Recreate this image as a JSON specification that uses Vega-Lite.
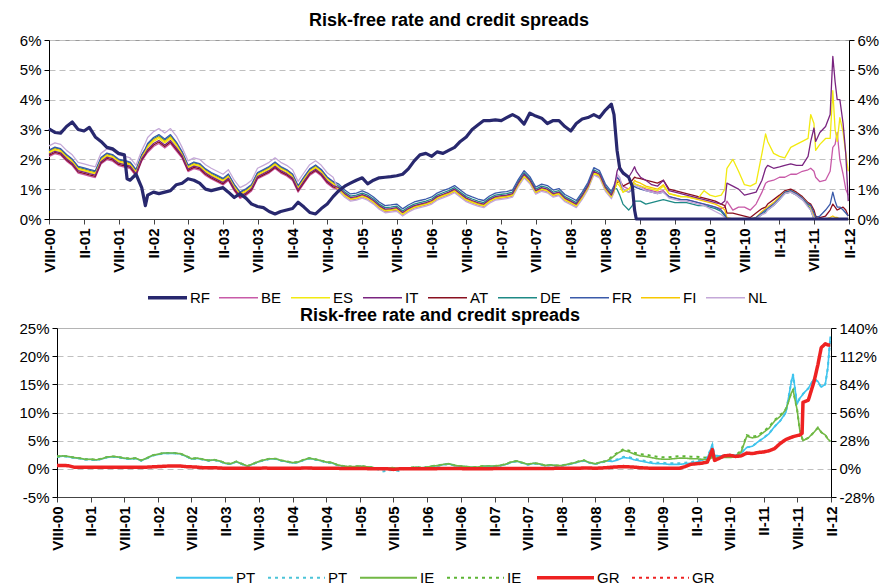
{
"$schema": "https://vega.github.io/schema/vega-lite/v6.json",
"background": "white",
"padding": {"left": 18, "top": 11, "right": 2, "bottom": 5},
"config": {
 "font": "Liberation Sans",
 "view": {"stroke": "#9a9a9a"},
 "title": {"fontSize": 18, "fontWeight": "bold", "color": "#000"},
 "axis": {"labelFontSize": 15, "labelColor": "#000", "domainColor": "#000", "tickColor": "#000", "tickSize": 5, "gridColor": "#c0c0c0", "gridDash": [6,4], "labelPadding": 3},
 "axisX": {"domainColor": "#444", "tickColor": "#444"},
 "legend": {"orient": "none", "direction": "horizontal", "symbolType": "stroke", "labelFontSize": 15, "labelColor": "#000", "padding": 0}
},
"datasets": {
"top": [
{"d":"2000/08/01","RF":3.02,"BE":2.09,"ES":2.21,"IT":2.17,"AT":2.13,"DE":2.28,"FR":2.31,"FI":2.25,"NL":2.45},
{"d":"2000/09/01","RF":2.9,"BE":2.19,"ES":2.31,"IT":2.27,"AT":2.23,"DE":2.38,"FR":2.41,"FI":2.35,"NL":2.55},
{"d":"2000/10/01","RF":2.88,"BE":2.14,"ES":2.26,"IT":2.22,"AT":2.18,"DE":2.33,"FR":2.36,"FI":2.3,"NL":2.5},
{"d":"2000/11/01","RF":3.1,"BE":1.94,"ES":2.06,"IT":2.02,"AT":1.98,"DE":2.13,"FR":2.16,"FI":2.1,"NL":2.3},
{"d":"2000/12/01","RF":3.25,"BE":1.79,"ES":1.91,"IT":1.87,"AT":1.83,"DE":1.98,"FR":2.01,"FI":1.95,"NL":2.15},
{"d":"2001/01/01","RF":3.0,"BE":1.54,"ES":1.66,"IT":1.62,"AT":1.58,"DE":1.73,"FR":1.76,"FI":1.7,"NL":1.9},
{"d":"2001/02/01","RF":2.95,"BE":1.49,"ES":1.61,"IT":1.57,"AT":1.53,"DE":1.68,"FR":1.71,"FI":1.65,"NL":1.85},
{"d":"2001/03/01","RF":3.07,"BE":1.44,"ES":1.56,"IT":1.52,"AT":1.48,"DE":1.63,"FR":1.66,"FI":1.6,"NL":1.8},
{"d":"2001/04/01","RF":2.75,"BE":1.39,"ES":1.51,"IT":1.47,"AT":1.43,"DE":1.58,"FR":1.61,"FI":1.55,"NL":1.75},
{"d":"2001/05/01","RF":2.6,"BE":1.84,"ES":1.96,"IT":1.92,"AT":1.88,"DE":2.03,"FR":2.06,"FI":2.0,"NL":2.2},
{"d":"2001/06/01","RF":2.4,"BE":1.99,"ES":2.11,"IT":2.07,"AT":2.03,"DE":2.18,"FR":2.21,"FI":2.15,"NL":2.35},
{"d":"2001/07/01","RF":2.35,"BE":1.94,"ES":2.06,"IT":2.02,"AT":1.98,"DE":2.13,"FR":2.16,"FI":2.1,"NL":2.3},
{"d":"2001/08/01","RF":2.2,"BE":1.79,"ES":1.91,"IT":1.87,"AT":1.83,"DE":1.98,"FR":2.01,"FI":1.95,"NL":2.15},
{"d":"2001/09/01","RF":2.15,"BE":1.74,"ES":1.86,"IT":1.82,"AT":1.78,"DE":1.93,"FR":1.96,"FI":1.9,"NL":2.1},
{"d":"2001/09/15","RF":1.35,"BE":1.72,"ES":1.84,"IT":1.8,"AT":1.76,"DE":1.91,"FR":1.94,"FI":1.88,"NL":2.08},
{"d":"2001/10/01","RF":1.3,"BE":1.69,"ES":1.81,"IT":1.77,"AT":1.73,"DE":1.88,"FR":1.91,"FI":1.85,"NL":2.05},
{"d":"2001/11/01","RF":1.5,"BE":1.44,"ES":1.56,"IT":1.52,"AT":1.48,"DE":1.63,"FR":1.66,"FI":1.6,"NL":1.8},
{"d":"2001/12/01","RF":1.05,"BE":1.94,"ES":2.06,"IT":2.02,"AT":1.98,"DE":2.13,"FR":2.16,"FI":2.1,"NL":2.3},
{"d":"2001/12/20","RF":0.45,"BE":2.12,"ES":2.25,"IT":2.2,"AT":2.16,"DE":2.33,"FR":2.36,"FI":2.3,"NL":2.55},
{"d":"2002/01/01","RF":0.8,"BE":2.23,"ES":2.4,"IT":2.33,"AT":2.28,"DE":2.49,"FR":2.53,"FI":2.45,"NL":2.73},
{"d":"2002/02/01","RF":0.9,"BE":2.43,"ES":2.6,"IT":2.53,"AT":2.48,"DE":2.69,"FR":2.73,"FI":2.65,"NL":2.93},
{"d":"2002/03/01","RF":0.85,"BE":2.53,"ES":2.7,"IT":2.63,"AT":2.58,"DE":2.79,"FR":2.83,"FI":2.75,"NL":3.03},
{"d":"2002/04/01","RF":0.9,"BE":2.38,"ES":2.55,"IT":2.48,"AT":2.43,"DE":2.64,"FR":2.68,"FI":2.6,"NL":2.88},
{"d":"2002/05/01","RF":0.95,"BE":2.53,"ES":2.7,"IT":2.63,"AT":2.58,"DE":2.79,"FR":2.83,"FI":2.75,"NL":3.03},
{"d":"2002/06/01","RF":1.15,"BE":2.28,"ES":2.45,"IT":2.38,"AT":2.33,"DE":2.54,"FR":2.58,"FI":2.5,"NL":2.78},
{"d":"2002/07/01","RF":1.2,"BE":2.04,"ES":2.16,"IT":2.12,"AT":2.08,"DE":2.23,"FR":2.26,"FI":2.2,"NL":2.4},
{"d":"2002/08/01","RF":1.35,"BE":1.59,"ES":1.71,"IT":1.67,"AT":1.63,"DE":1.78,"FR":1.81,"FI":1.75,"NL":1.95},
{"d":"2002/09/01","RF":1.3,"BE":1.69,"ES":1.81,"IT":1.77,"AT":1.73,"DE":1.88,"FR":1.91,"FI":1.85,"NL":2.05},
{"d":"2002/10/01","RF":1.2,"BE":1.64,"ES":1.76,"IT":1.72,"AT":1.68,"DE":1.83,"FR":1.86,"FI":1.8,"NL":2.0},
{"d":"2002/11/01","RF":1.0,"BE":1.46,"ES":1.58,"IT":1.54,"AT":1.5,"DE":1.65,"FR":1.68,"FI":1.62,"NL":1.82},
{"d":"2002/12/01","RF":0.95,"BE":1.34,"ES":1.46,"IT":1.42,"AT":1.38,"DE":1.53,"FR":1.56,"FI":1.5,"NL":1.7},
{"d":"2003/01/01","RF":1.0,"BE":1.24,"ES":1.36,"IT":1.32,"AT":1.28,"DE":1.43,"FR":1.46,"FI":1.4,"NL":1.6},
{"d":"2003/02/01","RF":1.05,"BE":1.14,"ES":1.26,"IT":1.22,"AT":1.18,"DE":1.33,"FR":1.36,"FI":1.3,"NL":1.5},
{"d":"2003/03/01","RF":0.9,"BE":1.29,"ES":1.41,"IT":1.37,"AT":1.33,"DE":1.48,"FR":1.51,"FI":1.45,"NL":1.65},
{"d":"2003/04/01","RF":0.72,"BE":0.94,"ES":1.06,"IT":1.02,"AT":0.98,"DE":1.13,"FR":1.16,"FI":1.1,"NL":1.3},
{"d":"2003/05/01","RF":0.85,"BE":0.69,"ES":0.81,"IT":0.77,"AT":0.73,"DE":0.88,"FR":0.91,"FI":0.85,"NL":1.05},
{"d":"2003/06/01","RF":0.7,"BE":0.79,"ES":0.91,"IT":0.87,"AT":0.83,"DE":0.98,"FR":1.01,"FI":0.95,"NL":1.15},
{"d":"2003/07/01","RF":0.5,"BE":0.94,"ES":1.06,"IT":1.02,"AT":0.98,"DE":1.13,"FR":1.16,"FI":1.1,"NL":1.3},
{"d":"2003/08/01","RF":0.42,"BE":1.34,"ES":1.46,"IT":1.42,"AT":1.38,"DE":1.53,"FR":1.56,"FI":1.5,"NL":1.7},
{"d":"2003/09/01","RF":0.38,"BE":1.44,"ES":1.56,"IT":1.52,"AT":1.48,"DE":1.63,"FR":1.66,"FI":1.6,"NL":1.8},
{"d":"2003/10/01","RF":0.25,"BE":1.54,"ES":1.66,"IT":1.62,"AT":1.58,"DE":1.73,"FR":1.76,"FI":1.7,"NL":1.9},
{"d":"2003/11/01","RF":0.17,"BE":1.69,"ES":1.81,"IT":1.77,"AT":1.73,"DE":1.88,"FR":1.91,"FI":1.85,"NL":2.05},
{"d":"2003/12/01","RF":0.25,"BE":1.54,"ES":1.66,"IT":1.62,"AT":1.58,"DE":1.73,"FR":1.76,"FI":1.7,"NL":1.9},
{"d":"2004/01/01","RF":0.3,"BE":1.44,"ES":1.56,"IT":1.52,"AT":1.48,"DE":1.63,"FR":1.66,"FI":1.6,"NL":1.8},
{"d":"2004/02/01","RF":0.35,"BE":1.29,"ES":1.41,"IT":1.37,"AT":1.33,"DE":1.48,"FR":1.51,"FI":1.45,"NL":1.65},
{"d":"2004/03/01","RF":0.56,"BE":0.9,"ES":1.02,"IT":0.98,"AT":0.94,"DE":1.09,"FR":1.12,"FI":1.06,"NL":1.26},
{"d":"2004/04/01","RF":0.4,"BE":1.19,"ES":1.31,"IT":1.27,"AT":1.23,"DE":1.38,"FR":1.41,"FI":1.35,"NL":1.55},
{"d":"2004/05/01","RF":0.22,"BE":1.46,"ES":1.58,"IT":1.54,"AT":1.5,"DE":1.65,"FR":1.68,"FI":1.62,"NL":1.82},
{"d":"2004/06/01","RF":0.17,"BE":1.59,"ES":1.71,"IT":1.67,"AT":1.63,"DE":1.78,"FR":1.81,"FI":1.75,"NL":1.95},
{"d":"2004/07/01","RF":0.35,"BE":1.44,"ES":1.56,"IT":1.52,"AT":1.48,"DE":1.63,"FR":1.66,"FI":1.6,"NL":1.8},
{"d":"2004/08/01","RF":0.5,"BE":1.19,"ES":1.31,"IT":1.27,"AT":1.23,"DE":1.38,"FR":1.41,"FI":1.35,"NL":1.55},
{"d":"2004/09/01","RF":0.75,"BE":1.04,"ES":1.16,"IT":1.12,"AT":1.08,"DE":1.23,"FR":1.26,"FI":1.2,"NL":1.4},
{"d":"2004/10/01","RF":0.95,"BE":0.97,"ES":0.99,"IT":1.05,"AT":1.02,"DE":1.1,"FR":1.17,"FI":1.03,"NL":0.93},
{"d":"2004/11/01","RF":1.1,"BE":0.77,"ES":0.79,"IT":0.85,"AT":0.82,"DE":0.9,"FR":0.97,"FI":0.83,"NL":0.73},
{"d":"2004/12/01","RF":1.2,"BE":0.64,"ES":0.66,"IT":0.72,"AT":0.69,"DE":0.77,"FR":0.84,"FI":0.7,"NL":0.6},
{"d":"2005/01/01","RF":1.3,"BE":0.67,"ES":0.69,"IT":0.75,"AT":0.72,"DE":0.8,"FR":0.87,"FI":0.73,"NL":0.63},
{"d":"2005/02/01","RF":1.38,"BE":0.74,"ES":0.76,"IT":0.82,"AT":0.79,"DE":0.87,"FR":0.94,"FI":0.8,"NL":0.7},
{"d":"2005/03/01","RF":1.18,"BE":0.67,"ES":0.69,"IT":0.75,"AT":0.72,"DE":0.8,"FR":0.87,"FI":0.73,"NL":0.63},
{"d":"2005/04/01","RF":1.3,"BE":0.54,"ES":0.56,"IT":0.62,"AT":0.59,"DE":0.67,"FR":0.74,"FI":0.6,"NL":0.5},
{"d":"2005/05/01","RF":1.38,"BE":0.37,"ES":0.39,"IT":0.45,"AT":0.42,"DE":0.5,"FR":0.57,"FI":0.43,"NL":0.33},
{"d":"2005/06/01","RF":1.4,"BE":0.25,"ES":0.27,"IT":0.33,"AT":0.3,"DE":0.38,"FR":0.45,"FI":0.31,"NL":0.21},
{"d":"2005/07/01","RF":1.42,"BE":0.27,"ES":0.29,"IT":0.35,"AT":0.32,"DE":0.4,"FR":0.47,"FI":0.33,"NL":0.23},
{"d":"2005/08/01","RF":1.45,"BE":0.3,"ES":0.32,"IT":0.38,"AT":0.35,"DE":0.43,"FR":0.5,"FI":0.36,"NL":0.26},
{"d":"2005/09/01","RF":1.5,"BE":0.14,"ES":0.16,"IT":0.22,"AT":0.19,"DE":0.27,"FR":0.34,"FI":0.2,"NL":0.1},
{"d":"2005/10/01","RF":1.68,"BE":0.27,"ES":0.29,"IT":0.35,"AT":0.32,"DE":0.4,"FR":0.47,"FI":0.33,"NL":0.23},
{"d":"2005/11/01","RF":1.95,"BE":0.37,"ES":0.39,"IT":0.45,"AT":0.42,"DE":0.5,"FR":0.57,"FI":0.43,"NL":0.33},
{"d":"2005/12/01","RF":2.15,"BE":0.42,"ES":0.44,"IT":0.5,"AT":0.47,"DE":0.55,"FR":0.62,"FI":0.48,"NL":0.38},
{"d":"2006/01/01","RF":2.2,"BE":0.47,"ES":0.49,"IT":0.55,"AT":0.52,"DE":0.6,"FR":0.67,"FI":0.53,"NL":0.43},
{"d":"2006/02/01","RF":2.1,"BE":0.54,"ES":0.56,"IT":0.62,"AT":0.59,"DE":0.67,"FR":0.74,"FI":0.6,"NL":0.5},
{"d":"2006/03/01","RF":2.25,"BE":0.67,"ES":0.69,"IT":0.75,"AT":0.72,"DE":0.8,"FR":0.87,"FI":0.73,"NL":0.63},
{"d":"2006/04/01","RF":2.2,"BE":0.75,"ES":0.77,"IT":0.83,"AT":0.8,"DE":0.88,"FR":0.95,"FI":0.81,"NL":0.71},
{"d":"2006/05/01","RF":2.3,"BE":0.82,"ES":0.84,"IT":0.9,"AT":0.87,"DE":0.95,"FR":1.02,"FI":0.88,"NL":0.78},
{"d":"2006/06/01","RF":2.4,"BE":0.92,"ES":0.94,"IT":1.0,"AT":0.97,"DE":1.05,"FR":1.12,"FI":0.98,"NL":0.88},
{"d":"2006/07/01","RF":2.6,"BE":0.77,"ES":0.79,"IT":0.85,"AT":0.82,"DE":0.9,"FR":0.97,"FI":0.83,"NL":0.73},
{"d":"2006/08/01","RF":2.75,"BE":0.62,"ES":0.64,"IT":0.7,"AT":0.67,"DE":0.75,"FR":0.82,"FI":0.68,"NL":0.58},
{"d":"2006/09/01","RF":3.0,"BE":0.54,"ES":0.56,"IT":0.62,"AT":0.59,"DE":0.67,"FR":0.74,"FI":0.6,"NL":0.5},
{"d":"2006/10/01","RF":3.15,"BE":0.47,"ES":0.49,"IT":0.55,"AT":0.52,"DE":0.6,"FR":0.67,"FI":0.53,"NL":0.43},
{"d":"2006/11/01","RF":3.3,"BE":0.42,"ES":0.44,"IT":0.5,"AT":0.47,"DE":0.55,"FR":0.62,"FI":0.48,"NL":0.38},
{"d":"2006/12/01","RF":3.3,"BE":0.57,"ES":0.59,"IT":0.65,"AT":0.62,"DE":0.7,"FR":0.77,"FI":0.63,"NL":0.53},
{"d":"2007/01/01","RF":3.32,"BE":0.67,"ES":0.69,"IT":0.75,"AT":0.72,"DE":0.8,"FR":0.87,"FI":0.73,"NL":0.63},
{"d":"2007/02/01","RF":3.3,"BE":0.7,"ES":0.72,"IT":0.78,"AT":0.75,"DE":0.83,"FR":0.9,"FI":0.76,"NL":0.66},
{"d":"2007/03/01","RF":3.4,"BE":0.72,"ES":0.74,"IT":0.8,"AT":0.77,"DE":0.85,"FR":0.92,"FI":0.78,"NL":0.68},
{"d":"2007/04/01","RF":3.5,"BE":0.77,"ES":0.79,"IT":0.85,"AT":0.82,"DE":0.9,"FR":0.97,"FI":0.83,"NL":0.73},
{"d":"2007/05/01","RF":3.4,"BE":1.12,"ES":1.14,"IT":1.2,"AT":1.17,"DE":1.25,"FR":1.32,"FI":1.18,"NL":1.08},
{"d":"2007/06/01","RF":3.18,"BE":1.42,"ES":1.44,"IT":1.5,"AT":1.47,"DE":1.55,"FR":1.62,"FI":1.48,"NL":1.38},
{"d":"2007/07/01","RF":3.55,"BE":1.22,"ES":1.24,"IT":1.3,"AT":1.27,"DE":1.35,"FR":1.42,"FI":1.28,"NL":1.18},
{"d":"2007/08/01","RF":3.45,"BE":0.87,"ES":0.89,"IT":0.95,"AT":0.92,"DE":1.0,"FR":1.07,"FI":0.93,"NL":0.83},
{"d":"2007/09/01","RF":3.38,"BE":0.97,"ES":0.99,"IT":1.05,"AT":1.02,"DE":1.1,"FR":1.17,"FI":1.03,"NL":0.93},
{"d":"2007/10/01","RF":3.2,"BE":0.92,"ES":0.94,"IT":1.0,"AT":0.97,"DE":1.05,"FR":1.12,"FI":0.98,"NL":0.88},
{"d":"2007/11/01","RF":3.3,"BE":0.77,"ES":0.79,"IT":0.85,"AT":0.82,"DE":0.9,"FR":0.97,"FI":0.83,"NL":0.73},
{"d":"2007/12/01","RF":3.3,"BE":0.82,"ES":0.84,"IT":0.9,"AT":0.87,"DE":0.95,"FR":1.02,"FI":0.88,"NL":0.78},
{"d":"2008/01/01","RF":3.1,"BE":0.62,"ES":0.64,"IT":0.7,"AT":0.67,"DE":0.75,"FR":0.82,"FI":0.68,"NL":0.58},
{"d":"2008/02/01","RF":2.95,"BE":0.52,"ES":0.54,"IT":0.6,"AT":0.57,"DE":0.65,"FR":0.72,"FI":0.58,"NL":0.48},
{"d":"2008/03/01","RF":3.2,"BE":0.42,"ES":0.44,"IT":0.5,"AT":0.47,"DE":0.55,"FR":0.62,"FI":0.48,"NL":0.38},
{"d":"2008/04/01","RF":3.35,"BE":0.7,"ES":0.72,"IT":0.78,"AT":0.75,"DE":0.83,"FR":0.9,"FI":0.76,"NL":0.66},
{"d":"2008/05/01","RF":3.4,"BE":1.02,"ES":1.04,"IT":1.1,"AT":1.07,"DE":1.15,"FR":1.22,"FI":1.08,"NL":0.98},
{"d":"2008/06/01","RF":3.5,"BE":1.52,"ES":1.54,"IT":1.6,"AT":1.57,"DE":1.65,"FR":1.72,"FI":1.58,"NL":1.48},
{"d":"2008/07/01","RF":3.4,"BE":1.42,"ES":1.44,"IT":1.5,"AT":1.47,"DE":1.55,"FR":1.62,"FI":1.48,"NL":1.38},
{"d":"2008/08/01","RF":3.65,"BE":0.97,"ES":0.99,"IT":1.05,"AT":1.02,"DE":1.1,"FR":1.17,"FI":1.03,"NL":0.93},
{"d":"2008/09/01","RF":3.85,"BE":0.72,"ES":0.74,"IT":0.8,"AT":0.77,"DE":0.85,"FR":0.92,"FI":0.78,"NL":0.68},
{"d":"2008/09/15","RF":3.5,"BE":0.92,"ES":0.94,"IT":1.0,"AT":0.97,"DE":1.05,"FR":1.12,"FI":0.98,"NL":0.88},
{"d":"2008/10/01","RF":2.3,"BE":1.4,"ES":1.2,"IT":1.6,"AT":1.2,"DE":1.0,"FR":1.4,"FI":1.3,"NL":1.5},
{"d":"2008/10/15","RF":1.7,"BE":1.3,"ES":1.1,"IT":1.8,"AT":1.3,"DE":0.8,"FR":1.3,"FI":1.2,"NL":1.4},
{"d":"2008/11/01","RF":1.55,"BE":1.1,"ES":0.9,"IT":1.5,"AT":1.1,"DE":0.5,"FR":1.0,"FI":0.9,"NL":1.0},
{"d":"2008/12/01","RF":1.4,"BE":1.0,"ES":1.0,"IT":1.4,"AT":1.2,"DE":0.3,"FR":0.9,"FI":1.0,"NL":0.9},
{"d":"2008/12/20","RF":1.1,"BE":1.1,"ES":1.1,"IT":1.6,"AT":1.3,"DE":0.45,"FR":1.0,"FI":1.15,"NL":1.05},
{"d":"2009/01/01","RF":0.3,"BE":1.2,"ES":1.2,"IT":1.75,"AT":1.4,"DE":0.6,"FR":1.1,"FI":1.3,"NL":1.2},
{"d":"2009/01/10","RF":0,"BE":1.15,"ES":1.15,"IT":1.6,"AT":1.38,"DE":0.6,"FR":1.05,"FI":1.25,"NL":1.1},
{"d":"2009/02/01","RF":0,"BE":1.1,"ES":1.1,"IT":1.4,"AT":1.35,"DE":0.6,"FR":1.0,"FI":1.2,"NL":1.05},
{"d":"2009/03/01","RF":0,"BE":1.0,"ES":1.05,"IT":1.3,"AT":1.3,"DE":0.5,"FR":0.95,"FI":1.1,"NL":0.95},
{"d":"2009/04/01","RF":0,"BE":0.95,"ES":1.0,"IT":1.15,"AT":1.25,"DE":0.55,"FR":0.9,"FI":1.05,"NL":0.9},
{"d":"2009/05/01","RF":0,"BE":0.9,"ES":0.95,"IT":1.1,"AT":1.2,"DE":0.6,"FR":0.85,"FI":1.0,"NL":0.85},
{"d":"2009/06/01","RF":0,"BE":0.95,"ES":1.1,"IT":1.3,"AT":1.3,"DE":0.65,"FR":0.9,"FI":1.15,"NL":0.9},
{"d":"2009/07/01","RF":0,"BE":0.75,"ES":0.85,"IT":0.95,"AT":1.0,"DE":0.6,"FR":0.75,"FI":0.85,"NL":0.7},
{"d":"2009/08/01","RF":0,"BE":0.7,"ES":0.8,"IT":0.9,"AT":0.95,"DE":0.55,"FR":0.7,"FI":0.8,"NL":0.65},
{"d":"2009/09/01","RF":0,"BE":0.65,"ES":0.75,"IT":0.85,"AT":0.9,"DE":0.55,"FR":0.65,"FI":0.75,"NL":0.6},
{"d":"2009/10/01","RF":0,"BE":0.65,"ES":0.75,"IT":0.8,"AT":0.85,"DE":0.55,"FR":0.65,"FI":0.75,"NL":0.6},
{"d":"2009/11/01","RF":0,"BE":0.6,"ES":0.7,"IT":0.75,"AT":0.8,"DE":0.5,"FR":0.6,"FI":0.7,"NL":0.55},
{"d":"2009/12/01","RF":0,"BE":0.55,"ES":0.7,"IT":0.7,"AT":0.75,"DE":0.45,"FR":0.55,"FI":0.65,"NL":0.5},
{"d":"2010/01/01","RF":0,"BE":0.5,"ES":0.95,"IT":0.65,"AT":0.7,"DE":0.45,"FR":0.5,"FI":0.6,"NL":0.45},
{"d":"2010/02/01","RF":0,"BE":0.45,"ES":0.8,"IT":0.6,"AT":0.65,"DE":0.4,"FR":0.45,"FI":0.55,"NL":0.35},
{"d":"2010/03/01","RF":0,"BE":0.4,"ES":0.75,"IT":0.55,"AT":0.6,"DE":0.35,"FR":0.4,"FI":0.5,"NL":0.25},
{"d":"2010/04/01","RF":0,"BE":0.35,"ES":0.8,"IT":0.5,"AT":0.5,"DE":0.25,"FR":0.3,"FI":0.4,"NL":0.15},
{"d":"2010/04/20","RF":0,"BE":0.4,"ES":1.0,"IT":0.6,"AT":0.45,"DE":0.1,"FR":0.15,"FI":0.3,"NL":0.05},
{"d":"2010/05/01","RF":0,"BE":0.6,"ES":1.7,"IT":1.2,"AT":0.2,"DE":0,"FR":0,"FI":0.05,"NL":0},
{"d":"2010/06/01","RF":0,"BE":0.3,"ES":2.0,"IT":1.1,"AT":0.2,"DE":0,"FR":0,"FI":0,"NL":0},
{"d":"2010/07/01","RF":0,"BE":0.4,"ES":1.6,"IT":1.0,"AT":0.15,"DE":0,"FR":0,"FI":0,"NL":0},
{"d":"2010/08/01","RF":0,"BE":0.4,"ES":1.15,"IT":0.8,"AT":0.1,"DE":0,"FR":0,"FI":0,"NL":0},
{"d":"2010/09/01","RF":0,"BE":0.3,"ES":1.1,"IT":0.85,"AT":0.05,"DE":0,"FR":0,"FI":0,"NL":0},
{"d":"2010/10/01","RF":0,"BE":0.5,"ES":1.2,"IT":0.9,"AT":0.2,"DE":0,"FR":0.05,"FI":0.05,"NL":0},
{"d":"2010/11/01","RF":0,"BE":0.9,"ES":2.2,"IT":1.3,"AT":0.35,"DE":0.15,"FR":0.2,"FI":0.25,"NL":0.15},
{"d":"2010/11/20","RF":0,"BE":1.2,"ES":2.85,"IT":1.7,"AT":0.4,"DE":0.25,"FR":0.3,"FI":0.35,"NL":0.2},
{"d":"2010/12/01","RF":0,"BE":1.25,"ES":2.6,"IT":1.8,"AT":0.5,"DE":0.3,"FR":0.35,"FI":0.4,"NL":0.3},
{"d":"2011/01/01","RF":0,"BE":1.3,"ES":2.2,"IT":1.7,"AT":0.65,"DE":0.45,"FR":0.5,"FI":0.55,"NL":0.45},
{"d":"2011/02/01","RF":0,"BE":1.4,"ES":2.1,"IT":1.75,"AT":0.8,"DE":0.65,"FR":0.7,"FI":0.75,"NL":0.65},
{"d":"2011/03/01","RF":0,"BE":1.4,"ES":2.05,"IT":1.8,"AT":0.95,"DE":0.85,"FR":0.9,"FI":0.9,"NL":0.85},
{"d":"2011/04/01","RF":0,"BE":1.5,"ES":2.4,"IT":1.85,"AT":1.0,"DE":0.9,"FR":0.95,"FI":0.95,"NL":0.9},
{"d":"2011/05/01","RF":0,"BE":1.5,"ES":2.5,"IT":1.8,"AT":0.9,"DE":0.8,"FR":0.85,"FI":0.85,"NL":0.8},
{"d":"2011/06/01","RF":0,"BE":1.6,"ES":2.6,"IT":1.8,"AT":0.75,"DE":0.65,"FR":0.7,"FI":0.7,"NL":0.65},
{"d":"2011/07/01","RF":0,"BE":1.65,"ES":2.7,"IT":2.1,"AT":0.55,"DE":0.45,"FR":0.5,"FI":0.5,"NL":0.4},
{"d":"2011/07/15","RF":0,"BE":1.7,"ES":3.5,"IT":2.6,"AT":0.5,"DE":0.3,"FR":0.45,"FI":0.4,"NL":0.3},
{"d":"2011/08/01","RF":0,"BE":1.6,"ES":3.2,"IT":3.05,"AT":0.3,"DE":0.0,"FR":0.2,"FI":0.1,"NL":0},
{"d":"2011/08/10","RF":0,"BE":1.4,"ES":2.3,"IT":2.6,"AT":0.1,"DE":0,"FR":0.05,"FI":0.05,"NL":0},
{"d":"2011/09/01","RF":0,"BE":1.25,"ES":2.5,"IT":2.9,"AT":0.05,"DE":0,"FR":0.1,"FI":0,"NL":0},
{"d":"2011/10/01","RF":0,"BE":1.3,"ES":2.7,"IT":3.1,"AT":0.1,"DE":0,"FR":0.3,"FI":0,"NL":0},
{"d":"2011/10/25","RF":0,"BE":1.6,"ES":2.7,"IT":3.5,"AT":0.3,"DE":0,"FR":0.5,"FI":0.05,"NL":0},
{"d":"2011/11/08","RF":0,"BE":2.4,"ES":4.3,"IT":5.45,"AT":0.5,"DE":0,"FR":0.9,"FI":0.1,"NL":0},
{"d":"2011/11/20","RF":0,"BE":2.5,"ES":3.0,"IT":4.6,"AT":0.4,"DE":0,"FR":0.6,"FI":0.05,"NL":0},
{"d":"2011/12/01","RF":0,"BE":2.9,"ES":2.6,"IT":4.0,"AT":0.3,"DE":0,"FR":0.4,"FI":0.05,"NL":0},
{"d":"2011/12/15","RF":0,"BE":2.0,"ES":3.4,"IT":4.0,"AT":0.35,"DE":0,"FR":0.4,"FI":0,"NL":0},
{"d":"2012/01/01","RF":0,"BE":1.5,"ES":2.9,"IT":3.2,"AT":0.4,"DE":0,"FR":0.3,"FI":0,"NL":0},
{"d":"2012/01/15","RF":0,"BE":1.0,"ES":2.2,"IT":2.2,"AT":0.3,"DE":0,"FR":0.2,"FI":0,"NL":0},
{"d":"2012/01/28","RF":0,"BE":0.8,"ES":1.6,"IT":0.6,"AT":0.1,"DE":0,"FR":0.1,"FI":0,"NL":0}
],
"bot": [
{"d":"2000/08/01","PT":2.15,"PT_r":12.0,"IE":2.2,"IE_r":12.3,"GR":0.6,"GR_r":3.4},
{"d":"2000/09/01","PT":2.25,"PT_r":12.6,"IE":2.3,"IE_r":12.9,"GR":0.6,"GR_r":3.4},
{"d":"2000/10/01","PT":2.15,"PT_r":12.0,"IE":2.2,"IE_r":12.3,"GR":0.55,"GR_r":3.1},
{"d":"2000/11/01","PT":1.95,"PT_r":10.9,"IE":2.0,"IE_r":11.2,"GR":0.3,"GR_r":1.7},
{"d":"2000/12/01","PT":1.85,"PT_r":10.4,"IE":1.9,"IE_r":10.6,"GR":0.3,"GR_r":1.7},
{"d":"2001/01/01","PT":1.65,"PT_r":9.2,"IE":1.7,"IE_r":9.5,"GR":0.3,"GR_r":1.7},
{"d":"2001/02/01","PT":1.65,"PT_r":9.2,"IE":1.7,"IE_r":9.5,"GR":0.3,"GR_r":1.7},
{"d":"2001/03/01","PT":1.55,"PT_r":8.7,"IE":1.6,"IE_r":9.0,"GR":0.3,"GR_r":1.7},
{"d":"2001/04/01","PT":1.75,"PT_r":9.8,"IE":1.8,"IE_r":10.1,"GR":0.3,"GR_r":1.7},
{"d":"2001/05/01","PT":2.05,"PT_r":11.5,"IE":2.1,"IE_r":11.8,"GR":0.3,"GR_r":1.7},
{"d":"2001/06/01","PT":2.15,"PT_r":12.0,"IE":2.2,"IE_r":12.3,"GR":0.3,"GR_r":1.7},
{"d":"2001/07/01","PT":2.05,"PT_r":11.5,"IE":2.1,"IE_r":11.8,"GR":0.3,"GR_r":1.7},
{"d":"2001/08/01","PT":1.85,"PT_r":10.4,"IE":1.9,"IE_r":10.6,"GR":0.3,"GR_r":1.7},
{"d":"2001/09/01","PT":1.75,"PT_r":9.8,"IE":1.8,"IE_r":10.1,"GR":0.3,"GR_r":1.7},
{"d":"2001/10/01","PT":1.85,"PT_r":10.4,"IE":1.9,"IE_r":10.6,"GR":0.3,"GR_r":1.7},
{"d":"2001/11/01","PT":1.45,"PT_r":8.1,"IE":1.5,"IE_r":8.4,"GR":0.3,"GR_r":1.7},
{"d":"2001/12/01","PT":1.85,"PT_r":10.4,"IE":1.9,"IE_r":10.6,"GR":0.3,"GR_r":1.7},
{"d":"2002/01/01","PT":2.35,"PT_r":13.2,"IE":2.4,"IE_r":13.4,"GR":0.35,"GR_r":2.0},
{"d":"2002/02/01","PT":2.55,"PT_r":14.3,"IE":2.6,"IE_r":14.6,"GR":0.4,"GR_r":2.2},
{"d":"2002/03/01","PT":2.75,"PT_r":15.4,"IE":2.8,"IE_r":15.7,"GR":0.45,"GR_r":2.5},
{"d":"2002/04/01","PT":2.75,"PT_r":15.4,"IE":2.8,"IE_r":15.7,"GR":0.5,"GR_r":2.8},
{"d":"2002/05/01","PT":2.75,"PT_r":15.4,"IE":2.8,"IE_r":15.7,"GR":0.5,"GR_r":2.8},
{"d":"2002/06/01","PT":2.65,"PT_r":14.8,"IE":2.7,"IE_r":15.1,"GR":0.5,"GR_r":2.8},
{"d":"2002/07/01","PT":2.25,"PT_r":12.6,"IE":2.3,"IE_r":12.9,"GR":0.4,"GR_r":2.2},
{"d":"2002/08/01","PT":1.75,"PT_r":9.8,"IE":1.8,"IE_r":10.1,"GR":0.35,"GR_r":2.0},
{"d":"2002/09/01","PT":1.85,"PT_r":10.4,"IE":1.9,"IE_r":10.6,"GR":0.3,"GR_r":1.7},
{"d":"2002/10/01","PT":1.65,"PT_r":9.2,"IE":1.7,"IE_r":9.5,"GR":0.2,"GR_r":1.1},
{"d":"2002/11/01","PT":1.45,"PT_r":8.1,"IE":1.5,"IE_r":8.4,"GR":0.2,"GR_r":1.1},
{"d":"2002/12/01","PT":1.55,"PT_r":8.7,"IE":1.6,"IE_r":9.0,"GR":0.2,"GR_r":1.1},
{"d":"2003/01/01","PT":1.35,"PT_r":7.6,"IE":1.4,"IE_r":7.8,"GR":0.15,"GR_r":0.8},
{"d":"2003/02/01","PT":0.95,"PT_r":5.3,"IE":1.0,"IE_r":5.6,"GR":0.1,"GR_r":0.6},
{"d":"2003/03/01","PT":0.85,"PT_r":4.8,"IE":0.9,"IE_r":5.0,"GR":0.1,"GR_r":0.6},
{"d":"2003/04/01","PT":1.25,"PT_r":7.0,"IE":1.3,"IE_r":7.3,"GR":0.1,"GR_r":0.6},
{"d":"2003/05/01","PT":0.85,"PT_r":4.8,"IE":0.9,"IE_r":5.0,"GR":0.1,"GR_r":0.6},
{"d":"2003/06/01","PT":0.45,"PT_r":2.5,"IE":0.5,"IE_r":2.8,"GR":0.1,"GR_r":0.6},
{"d":"2003/07/01","PT":0.85,"PT_r":4.8,"IE":0.9,"IE_r":5.0,"GR":0.1,"GR_r":0.6},
{"d":"2003/08/01","PT":1.25,"PT_r":7.0,"IE":1.3,"IE_r":7.3,"GR":0.1,"GR_r":0.6},
{"d":"2003/09/01","PT":1.55,"PT_r":8.7,"IE":1.6,"IE_r":9.0,"GR":0.15,"GR_r":0.8},
{"d":"2003/10/01","PT":1.75,"PT_r":9.8,"IE":1.8,"IE_r":10.1,"GR":0.1,"GR_r":0.6},
{"d":"2003/11/01","PT":1.75,"PT_r":9.8,"IE":1.8,"IE_r":10.1,"GR":0.1,"GR_r":0.6},
{"d":"2003/12/01","PT":1.45,"PT_r":8.1,"IE":1.5,"IE_r":8.4,"GR":0.1,"GR_r":0.6},
{"d":"2004/01/01","PT":1.25,"PT_r":7.0,"IE":1.3,"IE_r":7.3,"GR":0.1,"GR_r":0.6},
{"d":"2004/02/01","PT":1.05,"PT_r":5.9,"IE":1.1,"IE_r":6.2,"GR":0.1,"GR_r":0.6},
{"d":"2004/03/01","PT":1.15,"PT_r":6.4,"IE":1.2,"IE_r":6.7,"GR":0.1,"GR_r":0.6},
{"d":"2004/04/01","PT":1.55,"PT_r":8.7,"IE":1.6,"IE_r":9.0,"GR":0.15,"GR_r":0.8},
{"d":"2004/05/01","PT":1.85,"PT_r":10.4,"IE":1.9,"IE_r":10.6,"GR":0.15,"GR_r":0.8},
{"d":"2004/06/01","PT":1.65,"PT_r":9.2,"IE":1.7,"IE_r":9.5,"GR":0.1,"GR_r":0.6},
{"d":"2004/07/01","PT":1.45,"PT_r":8.1,"IE":1.5,"IE_r":8.4,"GR":0.1,"GR_r":0.6},
{"d":"2004/08/01","PT":1.15,"PT_r":6.4,"IE":1.2,"IE_r":6.7,"GR":0.1,"GR_r":0.6},
{"d":"2004/09/01","PT":1.05,"PT_r":5.9,"IE":1.1,"IE_r":6.2,"GR":0.1,"GR_r":0.6},
{"d":"2004/10/01","PT":0.65,"PT_r":3.6,"IE":0.7,"IE_r":3.9,"GR":0.1,"GR_r":0.6},
{"d":"2004/11/01","PT":0.45,"PT_r":2.5,"IE":0.5,"IE_r":2.8,"GR":0.05,"GR_r":0.3},
{"d":"2004/12/01","PT":0.35,"PT_r":2.0,"IE":0.4,"IE_r":2.2,"GR":0.05,"GR_r":0.3},
{"d":"2005/01/01","PT":0.35,"PT_r":2.0,"IE":0.4,"IE_r":2.2,"GR":0.05,"GR_r":0.3},
{"d":"2005/02/01","PT":0.45,"PT_r":2.5,"IE":0.5,"IE_r":2.8,"GR":0.05,"GR_r":0.3},
{"d":"2005/03/01","PT":0.35,"PT_r":2.0,"IE":0.4,"IE_r":2.2,"GR":0.05,"GR_r":0.3},
{"d":"2005/04/01","PT":0.25,"PT_r":1.4,"IE":0.3,"IE_r":1.7,"GR":0,"GR_r":0},
{"d":"2005/05/01","PT":0.05,"PT_r":0.3,"IE":0.1,"IE_r":0.6,"GR":0,"GR_r":0},
{"d":"2005/06/01","PT":-0.1,"PT_r":-2.8,"IE":0.0,"IE_r":0,"GR":0,"GR_r":0},
{"d":"2005/07/01","PT":0.0,"PT_r":-1.7,"IE":0.1,"IE_r":0.6,"GR":0,"GR_r":0},
{"d":"2005/08/01","PT":0.1,"PT_r":-1.1,"IE":0.2,"IE_r":1.1,"GR":-0.1,"GR_r":-0.6},
{"d":"2005/09/01","PT":-0.05,"PT_r":-2.2,"IE":0.0,"IE_r":0,"GR":0,"GR_r":0},
{"d":"2005/10/01","PT":0.05,"PT_r":0.3,"IE":0.1,"IE_r":0.6,"GR":0,"GR_r":0},
{"d":"2005/11/01","PT":0.15,"PT_r":0.8,"IE":0.2,"IE_r":1.1,"GR":0,"GR_r":0},
{"d":"2005/12/01","PT":0.25,"PT_r":1.4,"IE":0.3,"IE_r":1.7,"GR":0,"GR_r":0},
{"d":"2006/01/01","PT":0.15,"PT_r":0.8,"IE":0.2,"IE_r":1.1,"GR":0,"GR_r":0},
{"d":"2006/02/01","PT":0.25,"PT_r":1.4,"IE":0.3,"IE_r":1.7,"GR":0,"GR_r":0},
{"d":"2006/03/01","PT":0.45,"PT_r":2.5,"IE":0.5,"IE_r":2.8,"GR":0,"GR_r":0},
{"d":"2006/04/01","PT":0.55,"PT_r":3.1,"IE":0.6,"IE_r":3.4,"GR":0.05,"GR_r":0.3},
{"d":"2006/05/01","PT":0.75,"PT_r":4.2,"IE":0.8,"IE_r":4.5,"GR":0.05,"GR_r":0.3},
{"d":"2006/06/01","PT":0.85,"PT_r":4.8,"IE":0.9,"IE_r":5.0,"GR":0.05,"GR_r":0.3},
{"d":"2006/07/01","PT":0.55,"PT_r":3.1,"IE":0.6,"IE_r":3.4,"GR":0.05,"GR_r":0.3},
{"d":"2006/08/01","PT":0.45,"PT_r":2.5,"IE":0.5,"IE_r":2.8,"GR":0.05,"GR_r":0.3},
{"d":"2006/09/01","PT":0.35,"PT_r":2.0,"IE":0.4,"IE_r":2.2,"GR":0,"GR_r":0},
{"d":"2006/10/01","PT":0.25,"PT_r":1.4,"IE":0.3,"IE_r":1.7,"GR":0,"GR_r":0},
{"d":"2006/11/01","PT":0.25,"PT_r":1.4,"IE":0.3,"IE_r":1.7,"GR":0,"GR_r":0},
{"d":"2006/12/01","PT":0.45,"PT_r":2.5,"IE":0.5,"IE_r":2.8,"GR":0,"GR_r":0},
{"d":"2007/01/01","PT":0.45,"PT_r":2.5,"IE":0.5,"IE_r":2.8,"GR":0,"GR_r":0},
{"d":"2007/02/01","PT":0.45,"PT_r":2.5,"IE":0.5,"IE_r":2.8,"GR":0.05,"GR_r":0.3},
{"d":"2007/03/01","PT":0.55,"PT_r":3.1,"IE":0.6,"IE_r":3.4,"GR":0.05,"GR_r":0.3},
{"d":"2007/04/01","PT":0.75,"PT_r":4.2,"IE":0.8,"IE_r":4.5,"GR":0.05,"GR_r":0.3},
{"d":"2007/05/01","PT":1.15,"PT_r":6.4,"IE":1.2,"IE_r":6.7,"GR":0.05,"GR_r":0.3},
{"d":"2007/06/01","PT":1.35,"PT_r":7.6,"IE":1.4,"IE_r":7.8,"GR":0.05,"GR_r":0.3},
{"d":"2007/07/01","PT":1.05,"PT_r":5.9,"IE":1.1,"IE_r":6.2,"GR":0.05,"GR_r":0.3},
{"d":"2007/08/01","PT":0.75,"PT_r":4.2,"IE":0.8,"IE_r":4.5,"GR":0.05,"GR_r":0.3},
{"d":"2007/09/01","PT":0.95,"PT_r":5.3,"IE":1.0,"IE_r":5.6,"GR":0.05,"GR_r":0.3},
{"d":"2007/10/01","PT":0.85,"PT_r":4.8,"IE":0.9,"IE_r":5.0,"GR":0.05,"GR_r":0.3},
{"d":"2007/11/01","PT":0.55,"PT_r":3.1,"IE":0.6,"IE_r":3.4,"GR":0.05,"GR_r":0.3},
{"d":"2007/12/01","PT":0.65,"PT_r":3.6,"IE":0.7,"IE_r":3.9,"GR":0.05,"GR_r":0.3},
{"d":"2008/01/01","PT":0.55,"PT_r":3.1,"IE":0.6,"IE_r":3.4,"GR":0.1,"GR_r":0.6},
{"d":"2008/02/01","PT":0.55,"PT_r":3.1,"IE":0.6,"IE_r":3.4,"GR":0.1,"GR_r":0.6},
{"d":"2008/03/01","PT":0.75,"PT_r":4.2,"IE":0.8,"IE_r":4.5,"GR":0.1,"GR_r":0.6},
{"d":"2008/04/01","PT":0.95,"PT_r":5.3,"IE":1.0,"IE_r":5.6,"GR":0.1,"GR_r":0.6},
{"d":"2008/05/01","PT":1.25,"PT_r":7.0,"IE":1.3,"IE_r":7.3,"GR":0.1,"GR_r":0.6},
{"d":"2008/06/01","PT":1.45,"PT_r":8.1,"IE":1.5,"IE_r":8.4,"GR":0.15,"GR_r":0.8},
{"d":"2008/07/01","PT":1.05,"PT_r":5.9,"IE":1.1,"IE_r":6.2,"GR":0.15,"GR_r":0.8},
{"d":"2008/08/01","PT":0.85,"PT_r":4.8,"IE":0.9,"IE_r":5.0,"GR":0.1,"GR_r":0.6},
{"d":"2008/09/01","PT":1.15,"PT_r":6.4,"IE":1.2,"IE_r":6.7,"GR":0.15,"GR_r":0.8},
{"d":"2008/10/01","PT":1.4,"PT_r":7.8,"IE":1.4,"IE_r":7.8,"GR":0.2,"GR_r":1.1},
{"d":"2008/11/01","PT":1.3,"PT_r":8.5,"IE":2.0,"IE_r":12.5,"GR":0.3,"GR_r":1.7},
{"d":"2008/12/01","PT":1.6,"PT_r":9.5,"IE":2.8,"IE_r":16.2,"GR":0.35,"GR_r":2.0},
{"d":"2009/01/01","PT":2.0,"PT_r":12.0,"IE":3.3,"IE_r":19.5,"GR":0.4,"GR_r":2.2},
{"d":"2009/02/01","PT":1.9,"PT_r":11.5,"IE":3.0,"IE_r":18.0,"GR":0.35,"GR_r":2.0},
{"d":"2009/03/01","PT":1.6,"PT_r":10.0,"IE":2.6,"IE_r":16.0,"GR":0.3,"GR_r":1.7},
{"d":"2009/04/01","PT":1.4,"PT_r":8.8,"IE":2.3,"IE_r":14.5,"GR":0.2,"GR_r":1.1},
{"d":"2009/05/01","PT":1.2,"PT_r":7.7,"IE":2.2,"IE_r":14.0,"GR":0.15,"GR_r":0.8},
{"d":"2009/06/01","PT":1.0,"PT_r":6.6,"IE":2.0,"IE_r":13.0,"GR":0.1,"GR_r":0.6},
{"d":"2009/07/01","PT":0.9,"PT_r":6.0,"IE":1.8,"IE_r":12.0,"GR":0.1,"GR_r":0.6},
{"d":"2009/08/01","PT":0.9,"PT_r":6.0,"IE":1.7,"IE_r":11.5,"GR":0.1,"GR_r":0.6},
{"d":"2009/09/01","PT":0.8,"PT_r":5.5,"IE":1.7,"IE_r":11.5,"GR":0.1,"GR_r":0.6},
{"d":"2009/10/01","PT":0.8,"PT_r":5.5,"IE":1.8,"IE_r":12.0,"GR":0.1,"GR_r":0.6},
{"d":"2009/11/01","PT":0.8,"PT_r":5.5,"IE":1.9,"IE_r":12.6,"GR":0.1,"GR_r":0.6},
{"d":"2009/12/01","PT":0.9,"PT_r":6.0,"IE":1.9,"IE_r":12.6,"GR":0.4,"GR_r":2.2},
{"d":"2010/01/01","PT":1.0,"PT_r":6.6,"IE":1.8,"IE_r":12.0,"GR":0.8,"GR_r":4.5},
{"d":"2010/02/01","PT":1.2,"PT_r":7.7,"IE":1.8,"IE_r":12.0,"GR":0.9,"GR_r":5.0},
{"d":"2010/03/01","PT":1.5,"PT_r":9.4,"IE":1.7,"IE_r":11.5,"GR":1.0,"GR_r":5.6},
{"d":"2010/04/01","PT":1.9,"PT_r":11.5,"IE":1.6,"IE_r":11.0,"GR":1.2,"GR_r":6.7},
{"d":"2010/04/28","PT":4.3,"PT_r":24.0,"IE":2.0,"IE_r":12.3,"GR":3.4,"GR_r":19.0},
{"d":"2010/05/10","PT":2.3,"PT_r":13.0,"IE":1.9,"IE_r":11.8,"GR":1.5,"GR_r":8.4},
{"d":"2010/06/01","PT":2.3,"PT_r":13.0,"IE":2.0,"IE_r":12.5,"GR":1.8,"GR_r":10.1},
{"d":"2010/07/01","PT":2.3,"PT_r":13.0,"IE":2.0,"IE_r":12.5,"GR":2.3,"GR_r":12.9},
{"d":"2010/08/01","PT":2.5,"PT_r":14.0,"IE":2.0,"IE_r":12.5,"GR":2.4,"GR_r":13.4},
{"d":"2010/09/01","PT":2.4,"PT_r":13.4,"IE":2.2,"IE_r":13.5,"GR":2.2,"GR_r":12.3},
{"d":"2010/10/01","PT":2.8,"PT_r":15.7,"IE":3.0,"IE_r":18.0,"GR":2.3,"GR_r":12.9},
{"d":"2010/11/01","PT":3.8,"PT_r":21.3,"IE":5.8,"IE_r":33.5,"GR":2.8,"GR_r":15.7},
{"d":"2010/12/01","PT":4.0,"PT_r":22.4,"IE":5.5,"IE_r":32.0,"GR":2.7,"GR_r":15.1},
{"d":"2011/01/01","PT":4.8,"PT_r":27.0,"IE":5.7,"IE_r":33.0,"GR":2.9,"GR_r":16.2},
{"d":"2011/02/01","PT":5.5,"PT_r":31.0,"IE":6.5,"IE_r":37.5,"GR":3.0,"GR_r":16.8},
{"d":"2011/03/01","PT":6.2,"PT_r":35.0,"IE":7.2,"IE_r":41.5,"GR":3.2,"GR_r":17.9},
{"d":"2011/04/01","PT":7.5,"PT_r":42.0,"IE":8.5,"IE_r":48.5,"GR":3.6,"GR_r":20.2},
{"d":"2011/05/01","PT":8.5,"PT_r":47.6,"IE":9.3,"IE_r":53.0,"GR":4.5,"GR_r":25.2},
{"d":"2011/06/01","PT":10.0,"PT_r":56.0,"IE":10.5,"IE_r":59.5,"GR":5.2,"GR_r":29.1},
{"d":"2011/07/01","PT":15.5,"PT_r":87.0,"IE":13.5,"IE_r":76.0,"GR":5.6,"GR_r":31.4},
{"d":"2011/07/10","PT":16.8,"PT_r":94.0,"IE":14.0,"IE_r":78.5,"GR":5.7,"GR_r":31.9},
{"d":"2011/08/01","PT":11.5,"PT_r":64.4,"IE":10.5,"IE_r":59.0,"GR":5.9,"GR_r":33.0},
{"d":"2011/08/15","PT":12.5,"PT_r":70.0,"IE":7.0,"IE_r":39.2,"GR":6.0,"GR_r":33.6},
{"d":"2011/08/28","PT":13.0,"PT_r":72.8,"IE":5.5,"IE_r":30.8,"GR":6.3,"GR_r":35.3},
{"d":"2011/09/02","PT":13.3,"PT_r":74.5,"IE":5.0,"IE_r":28.0,"GR":11.8,"GR_r":66.0},
{"d":"2011/10/01","PT":14.3,"PT_r":80.0,"IE":5.5,"IE_r":30.8,"GR":12.2,"GR_r":68.3},
{"d":"2011/11/01","PT":16.0,"PT_r":89.6,"IE":6.5,"IE_r":36.4,"GR":15.5,"GR_r":86.8},
{"d":"2011/11/22","PT":15.5,"PT_r":86.8,"IE":7.3,"IE_r":40.9,"GR":18.5,"GR_r":103.6},
{"d":"2011/12/10","PT":14.5,"PT_r":81.2,"IE":6.5,"IE_r":36.4,"GR":21.5,"GR_r":120.4},
{"d":"2012/01/01","PT":15.0,"PT_r":84.0,"IE":6.0,"IE_r":33.6,"GR":22.2,"GR_r":124.3},
{"d":"2012/01/15","PT":18.0,"PT_r":100.8,"IE":5.3,"IE_r":29.7,"GR":22.0,"GR_r":123.2},
{"d":"2012/01/28","PT":23.5,"PT_r":130.0,"IE":4.9,"IE_r":27.4,"GR":22.0,"GR_r":123.2}
]
},
"vconcat": [
{
 "width": 800, "height": 179,
 "title": {"text": "Risk-free rate and credit spreads", "offset": 3},
 "data": {"name": "top"},
 "transform": [{"fold": ["BE","AT","DE","FI","FR","NL","ES","IT","RF"], "as": ["s","v"]}],
 "encoding": {
  "x": {"field": "d", "type": "temporal", "title": null,
   "scale": {"domain": [{"year":2000,"month":8,"date":1},{"year":2012,"month":2,"date":1}]},
   "axis": {"values": [{"year":2000,"month":8,"date":1},{"year":2001,"month":2,"date":1},{"year":2001,"month":8,"date":1},{"year":2002,"month":2,"date":1},{"year":2002,"month":8,"date":1},{"year":2003,"month":2,"date":1},{"year":2003,"month":8,"date":1},{"year":2004,"month":2,"date":1},{"year":2004,"month":8,"date":1},{"year":2005,"month":2,"date":1},{"year":2005,"month":8,"date":1},{"year":2006,"month":2,"date":1},{"year":2006,"month":8,"date":1},{"year":2007,"month":2,"date":1},{"year":2007,"month":8,"date":1},{"year":2008,"month":2,"date":1},{"year":2008,"month":8,"date":1},{"year":2009,"month":2,"date":1},{"year":2009,"month":8,"date":1},{"year":2010,"month":2,"date":1},{"year":2010,"month":8,"date":1},{"year":2011,"month":2,"date":1},{"year":2011,"month":8,"date":1},{"year":2012,"month":2,"date":1}],
    "labelExpr": "(month(datum.value) == 7 ? 'VIII' : 'II') + '-' + timeFormat(datum.value, '%y')",
    "labelAngle": 270, "labelFontWeight": "bold", "labelFontSize": 15, "labelOverlap": false, "labelFlush": false, "grid": false, "labelPadding": 4}
  }
 },
 "layer": [
  {
   "mark": {"type": "line", "strokeJoin": "round"},
   "encoding": {
    "y": {"field": "v", "type": "quantitative", "title": null, "scale": {"domain": [0, 6]},
     "axis": {"orient": "left", "values": [0,1,2,3,4,5,6], "labelExpr": "datum.value + '%'", "grid": true}},
    "color": {"field": "s", "type": "nominal",
     "scale": {"domain": ["RF","BE","ES","IT","AT","DE","FR","FI","NL"],
      "range": ["#28286e","#c85aa8","#f2ea10","#7a2480","#8a1020","#1e8a86","#3a5aaa","#f7c800","#c4a8d8"]},
     "legend": {"title": null, "orient": "none", "legendX": 111, "legendY": 250, "symbolSize": 1521, "symbolStrokeWidth": {"expr": "datum.value === 'RF' ? 3.5 : 1.5"}, "labelOffset": 15, "columnPadding": 6}},
    "strokeWidth": {"condition": {"test": "datum.s === 'RF'", "value": 3.2}, "value": 1.3}
   }
  },
  {
   "transform": [{"filter": "datum.s === 'RF'"}],
   "mark": {"type": "line", "opacity": 0},
   "encoding": {
    "y": {"field": "v", "type": "quantitative", "title": null, "scale": {"domain": [0, 6]},
     "axis": {"orient": "right", "values": [0,1,2,3,4,5,6], "labelExpr": "datum.value + '%'", "grid": false}}
   }
  }
 ],
 "resolve": {"axis": {"y": "independent"}}
},
{
 "width": 782, "height": 169,
 "view": {"stroke": null},
 "title": {"text": "Risk-free rate and credit spreads", "offset": -4},
 "data": {"name": "bot"},
 "encoding": {
  "x": {"field": "d", "type": "temporal", "title": null,
   "scale": {"domain": [{"year":2000,"month":8,"date":1},{"year":2012,"month":2,"date":1}], "range": [8, 782]},
   "axis": {"values": [{"year":2000,"month":8,"date":1},{"year":2001,"month":2,"date":1},{"year":2001,"month":8,"date":1},{"year":2002,"month":2,"date":1},{"year":2002,"month":8,"date":1},{"year":2003,"month":2,"date":1},{"year":2003,"month":8,"date":1},{"year":2004,"month":2,"date":1},{"year":2004,"month":8,"date":1},{"year":2005,"month":2,"date":1},{"year":2005,"month":8,"date":1},{"year":2006,"month":2,"date":1},{"year":2006,"month":8,"date":1},{"year":2007,"month":2,"date":1},{"year":2007,"month":8,"date":1},{"year":2008,"month":2,"date":1},{"year":2008,"month":8,"date":1},{"year":2009,"month":2,"date":1},{"year":2009,"month":8,"date":1},{"year":2010,"month":2,"date":1},{"year":2010,"month":8,"date":1},{"year":2011,"month":2,"date":1},{"year":2011,"month":8,"date":1},{"year":2012,"month":2,"date":1}],
    "labelExpr": "(month(datum.value) == 7 ? 'VIII' : 'II') + '-' + timeFormat(datum.value, '%y')",
    "labelAngle": 270, "labelFontWeight": "bold", "labelFontSize": 15, "labelOverlap": false, "labelFlush": false, "grid": false, "labelPadding": 4}
  }
 },
 "layer": [
  {
   "transform": [{"fold": ["PT_r","IE_r","GR_r"], "as": ["s","v"]}],
   "mark": {"type": "line", "strokeWidth": 2},
   "encoding": {
    "y": {"field": "v", "type": "quantitative", "title": null, "scale": {"domain": [-28, 140]},
     "axis": {"orient": "right", "values": [-28,0,28,56,84,112,140], "labelExpr": "datum.value + '%'", "grid": false}},
    "color": {"field": "s", "type": "nominal",
     "scale": {"domain": ["PT","PT_r","IE","IE_r","GR","GR_r"], "range": ["#3ec4ef","#4cc4d8","#72b845","#5cb534","#ee2222","#ee2222"]},
     "legend": {"title": null, "orient": "none", "legendX": 148, "legendY": 242, "labelExpr": "slice(datum.label, 0, 2)", "symbolSize": 3249, "symbolStrokeWidth": {"expr": "datum.value === 'GR' ? 3.5 : 2"}, "labelOffset": 24, "columnPadding": 8}},
    "strokeDash": {"field": "s", "type": "nominal",
     "scale": {"domain": ["PT","PT_r","IE","IE_r","GR","GR_r"], "range": [[1,0],[3,4],[1,0],[3,4],[1,0],[3,4]]}}
   }
  },
  {
   "transform": [{"fold": ["PT","IE","GR"], "as": ["s","v"]}],
   "mark": {"type": "line", "strokeJoin": "round"},
   "encoding": {
    "y": {"field": "v", "type": "quantitative", "title": null, "scale": {"domain": [-5, 25]},
     "axis": {"orient": "left", "offset": -8, "values": [-5,0,5,10,15,20,25], "labelExpr": "datum.value + '%'", "grid": true,
      "gridDash": {"condition": {"test": "datum.value === 25", "value": [1,0]}, "value": [6,4]},
      "gridColor": {"condition": {"test": "datum.value === 25", "value": "#9a9a9a"}, "value": "#c0c0c0"}}},
    "color": {"field": "s", "type": "nominal",
     "scale": {"domain": ["PT","PT_r","IE","IE_r","GR","GR_r"], "range": ["#3ec4ef","#4cc4d8","#72b845","#5cb534","#ee2222","#ee2222"]}},
    "strokeDash": {"field": "s", "type": "nominal",
     "scale": {"domain": ["PT","PT_r","IE","IE_r","GR","GR_r"], "range": [[1,0],[3,4],[1,0],[3,4],[1,0],[3,4]]}},
    "strokeWidth": {"condition": {"test": "datum.s === 'GR'", "value": 3.5}, "value": 1.6}
   }
  }
 ],
 "resolve": {"scale": {"y": "independent"}}
}
],
"spacing": 0,
"resolve": {"scale": {"x": "independent", "y": "independent", "color": "independent", "strokeDash": "independent"}, "legend": {"color": "independent", "strokeDash": "independent"}}
}
